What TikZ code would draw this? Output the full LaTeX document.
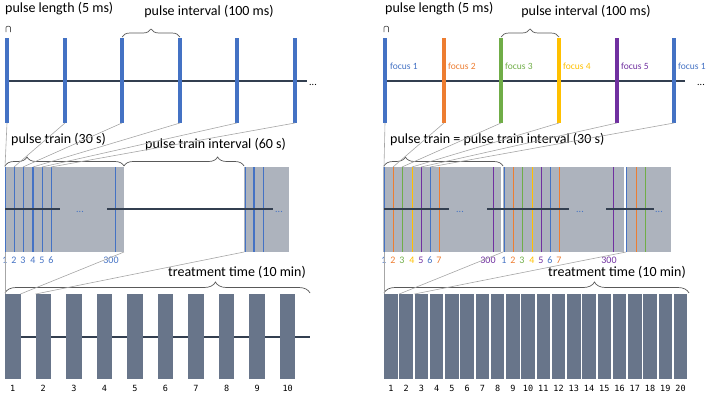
\documentclass[tikz,border=0pt]{standalone}
\usepackage{fontspec}
\setmainfont{Carlito}
\newfontfamily\monofont{DejaVu Sans Mono}
\usetikzlibrary{decorations.pathreplacing}
\definecolor{cblue}{HTML}{4472C4}
\definecolor{corange}{HTML}{ED7D31}
\definecolor{cgreen}{HTML}{70AD47}
\definecolor{cyellow}{HTML}{FFC000}
\definecolor{cpurple}{HTML}{7030A0}
\definecolor{cnavy}{HTML}{333F50}
\definecolor{cgrayfill}{HTML}{ADB3BD}
\definecolor{cslate}{HTML}{68758A}
\definecolor{cconn}{HTML}{A6A6A6}
\definecolor{cbrace}{HTML}{595959}
\begin{document}
\begin{tikzpicture}[x=1pt,y=-1pt,
  axisline/.style={draw=cnavy,line width=2.8pt},
  thinaxis/.style={draw=cnavy,line width=2.3pt},
  conn/.style={draw=cconn,line width=0.6pt},
  tline/.style={draw=#1,line width=1pt},
  brc/.style={draw=cbrace,line width=0.7pt,decorate,decoration={brace,amplitude=#1}},
  mainlbl/.style={font=\fontsize{14}{16}\selectfont,inner sep=0pt},
  focuslbl/.style={font=\fontsize{9.5}{11}\selectfont,inner sep=0pt,anchor=west,text=#1},
  numlbl/.style={font=\fontsize{10}{12}\selectfont,inner sep=0pt,text=#1},
  monolbl/.style={font=\monofont\fontsize{8.5}{10}\selectfont,inner sep=0pt},
  dots/.style={font=\fontsize{10}{12}\selectfont,inner sep=0pt,text=#1}]
\useasboundingbox (0,0) rectangle (709,394);

% ================= LEFT COLUMN =================
% top row
\draw[axisline] (7,81) -- (307,81);
\foreach \x [count=\i] in {7,65,122,180,237,295} {
  \fill[cblue] (\x-2.3,38) rectangle (\x+2.3,123);
  \coordinate (TL\i) at (\x,123);
}
\node[dots=black] (dotsTL) at (313,85) {...};
\node[mainlbl,anchor=west] (plL) at (5,9) {pulse length (5 ms)};
\draw[cbrace,line width=0.7pt] (6,32) -- (6,27.5) to[out=90,in=90] (10.5,27.5) -- (10.5,32);
\node[mainlbl] (piL) at (209,12) {pulse interval (100 ms)};
\draw[brc=8pt] (122,37) -- (180,37);

% middle row
\fill[cgrayfill] (5,167) rectangle (124,252);
\fill[cgrayfill] (244,167) rectangle (289,252);
\foreach \x [count=\i] in {5,14,23,33,42,51} {
  \coordinate (ML\i) at (\x,167);
}
\foreach \x in {5.5,14,23,42,51,115,245,263} {
  \draw[tline=cblue] (\x,167) -- (\x,252);
}
\draw[cblue,line width=1.5pt] (33,167) -- (33,252);
\draw[cblue,line width=1.5pt] (254,167) -- (254,252);
\draw[axisline] (5,209) -- (60,209);
\draw[axisline] (107,209) -- (273,209);
\node[dots=cblue] (dotsML1) at (80,212) {...};
\node[dots=cblue] (dotsML2) at (279,212) {...};
\foreach \x [count=\i] in {5,14,23,33,42,51} {
  \node[numlbl=cblue] (nL\i) at (\x,260) {\i};
}
\node[numlbl=cblue] (nL300) at (111,260) {300};
\node[mainlbl,anchor=west] (ptL) at (11,140) {pulse train (30 s)};
\node[mainlbl,anchor=west] (ptiL) at (145,145) {pulse train interval (60 s)};
\draw[brc=9pt,decoration={aspect=0.185}] (5,166) -- (124,166);
\draw[brc=9pt,decoration={aspect=0.78}] (124,166) -- (244,166);

\foreach \i in {1,...,6} { \draw[conn] (TL\i) -- (ML\i); }

% bottom row
\draw[thinaxis] (20,337) -- (310,337);
\foreach \i in {1,...,10} {
  \pgfmathsetmacro{\xl}{5+30.55*(\i-1)}
  \fill[cslate] (\xl,294) rectangle (\xl+15.5,379);
  \coordinate (BLl\i) at (\xl,294);
  \coordinate (BLr\i) at (\xl+15.5,294);
  \node[monolbl] (bnL\i) at (\xl+7.75,388) {\i};
}
\node[mainlbl] (ttL) at (237,272) {treatment time (10 min)};
\draw[brc=11pt,decoration={aspect=0.69}] (5,293) -- (310,293);
\coordinate (MLb1) at (5,252);
\coordinate (MLb2) at (124,252);
\coordinate (MLb3) at (244,252);
\draw[conn] (MLb1) -- (BLl1);
\draw[conn] (MLb2) -- (BLr1);
\draw[conn] (MLb3) -- (BLl2);

% ================= RIGHT COLUMN =================
\draw[axisline] (385,81) -- (685,81);
\foreach \x/\c [count=\i] in {385/cblue,444/corange,501/cgreen,559/cyellow,617/cpurple,674/cblue} {
  \fill[\c] (\x-2.3,38) rectangle (\x+2.3,123);
  \coordinate (TR\i) at (\x,123);
}
\foreach \x/\c/\t in {390/cblue/1,448/corange/2,505/cgreen/3,563/cyellow/4,621/cpurple/5,678/cblue/1} {
  \node[focuslbl=\c] (f\x) at (\x,66) {focus \t};
}
\node[dots=black] (dotsTR) at (701,85) {...};
\node[mainlbl,anchor=west] (plR) at (385,9) {pulse length (5 ms)};
\draw[cbrace,line width=0.7pt] (384,32) -- (384,27.5) to[out=90,in=90] (388.5,27.5) -- (388.5,32);
\node[mainlbl] (piR) at (586,12) {pulse interval (100 ms)};
\draw[brc=8pt] (501,37) -- (559,37);

% middle row
\fill[cgrayfill] (383,167) rectangle (671,252);
\draw[white,line width=1.4pt] (502,167) -- (502,252);
\draw[white,line width=1.4pt] (625,167) -- (625,252);
\foreach \x [count=\i] in {384,393,402,412,421,430} {
  \coordinate (MR\i) at (\x,167);
}
\foreach \off in {0,120} {
  \foreach \x/\c [count=\i] in {384/cblue,393/corange,402/cgreen,412/cyellow,421/cpurple,430/cblue,439/corange,493/cpurple} {
    \draw[tline=\c] (\x+\off,167) -- (\x+\off,252);
  }
}
\foreach \x/\c in {626.5/cblue,636/corange,645/cgreen} {
  \draw[tline=\c] (\x,167) -- (\x,252);
}
\draw[axisline] (384,209) -- (449,209);
\draw[axisline] (487,209) -- (569,209);
\draw[axisline] (606,209) -- (654,209);
\node[dots=cblue] (dotsMR1) at (460,212) {...};
\node[dots=cblue] (dotsMR2) at (580,212) {...};
\node[dots=cblue] (dotsMR3) at (659,212) {...};
\foreach \off/\k in {0/a,120/b} {
  \foreach \x/\c [count=\i] in {384/cblue,393/corange,402/cgreen,412/cyellow,421/cpurple,430/cblue,439/corange} {
    \node[numlbl=\c] (nR\k\i) at (\x+\off,260) {\i};
  }
}
\node[numlbl=cpurple] (nR300a) at (488,260) {300};
\node[numlbl=cpurple] (nR300b) at (609,260) {300};
\node[mainlbl,anchor=west] (ptR) at (390,140) {pulse train = pulse train interval (30 s)};
\draw[brc=9pt,decoration={aspect=0.18}] (384,166) -- (503,166);

\foreach \i in {1,...,6} { \draw[conn] (TR\i) -- (MR\i); }

% bottom row
\foreach \i in {1,...,20} {
  \pgfmathsetmacro{\xl}{384+15.25*(\i-1)}
  \fill[cslate] (\xl,294) rectangle (\xl+13.7,379);
  \coordinate (BR\i) at (\xl,294);
  \node[monolbl] (bnR\i) at (\xl+6.85,388) {\i};
}
\node[mainlbl] (ttR) at (617,272) {treatment time (10 min)};
\draw[brc=11pt,decoration={aspect=0.69}] (384,293) -- (689,293);
\coordinate (MRb1) at (384,252);
\coordinate (MRb2) at (503,252);
\coordinate (MRb3) at (626,252);
\draw[conn] (MRb1) -- (BR1);
\draw[conn] (MRb2) -- (BR2);
\draw[conn] (MRb3) -- (BR3);
\end{tikzpicture}
\end{document}
